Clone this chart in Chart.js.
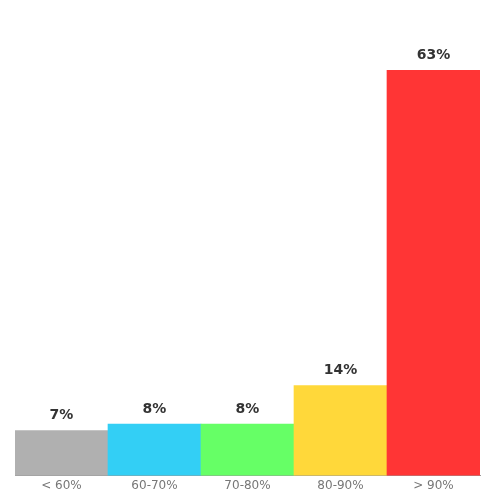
<!DOCTYPE html>
<html>
<head>
<meta charset="utf-8">
<script src="https://cdn.jsdelivr.net/npm/chart.js@4/dist/chart.umd.min.js"></script>
<style>
  html, body { margin: 0; padding: 0; background: #fff; }
  #wrap { width: 500px; height: 500px; }
</style>
</head>
<body>
<div id="wrap"><canvas id="chart"></canvas></div>
<script>
const categories = ["< 60%", "60-70%", "70-80%", "80-90%", "> 90%"];
const shares = [7, 8, 8, 14, 63];
const barColors = ["#b0b0b0", "#33cff5", "#66ff66", "#ffd83a", "#ff3535"];

// draws the "NN%" text above each bar
const valueLabels = {
  id: "valueLabels",
  afterDatasetsDraw(chart) {
    const ctx = chart.ctx;
    const meta = chart.getDatasetMeta(0);
    ctx.save();
    ctx.font = "bold 14px 'DejaVu Sans'";
    ctx.fillStyle = "#333333";
    ctx.textAlign = "center";
    ctx.textBaseline = "bottom";
    meta.data.forEach((bar, i) => {
      ctx.fillText(shares[i] + "%", bar.x, bar.y - 8);
    });
    ctx.restore();
  },
};

new Chart(document.getElementById("chart").getContext("2d"), {
  type: "bar",
  data: {
    labels: categories,
    datasets: [
      {
        data: shares,
        backgroundColor: barColors,
        borderWidth: 0,
        categoryPercentage: 1,
        barPercentage: 1,
      },
    ],
  },
  options: {
    responsive: true,
    maintainAspectRatio: false,
    animation: false,
    layout: {
      padding: { top: 70, left: 15, right: 20, bottom: 7 },
    },
    plugins: {
      legend: { display: false },
      tooltip: { enabled: false },
    },
    scales: {
      x: {
        grid: { display: false, tickLength: 3 },
        border: { display: true, color: "#999999", width: 1 },
        ticks: {
          color: "#777777",
          font: { family: "DejaVu Sans", size: 12 },
          padding: 0,
        },
      },
      y: {
        display: false,
        min: 0,
        max: 63,
      },
    },
  },
  plugins: [valueLabels],
});
</script>
</body>
</html>
